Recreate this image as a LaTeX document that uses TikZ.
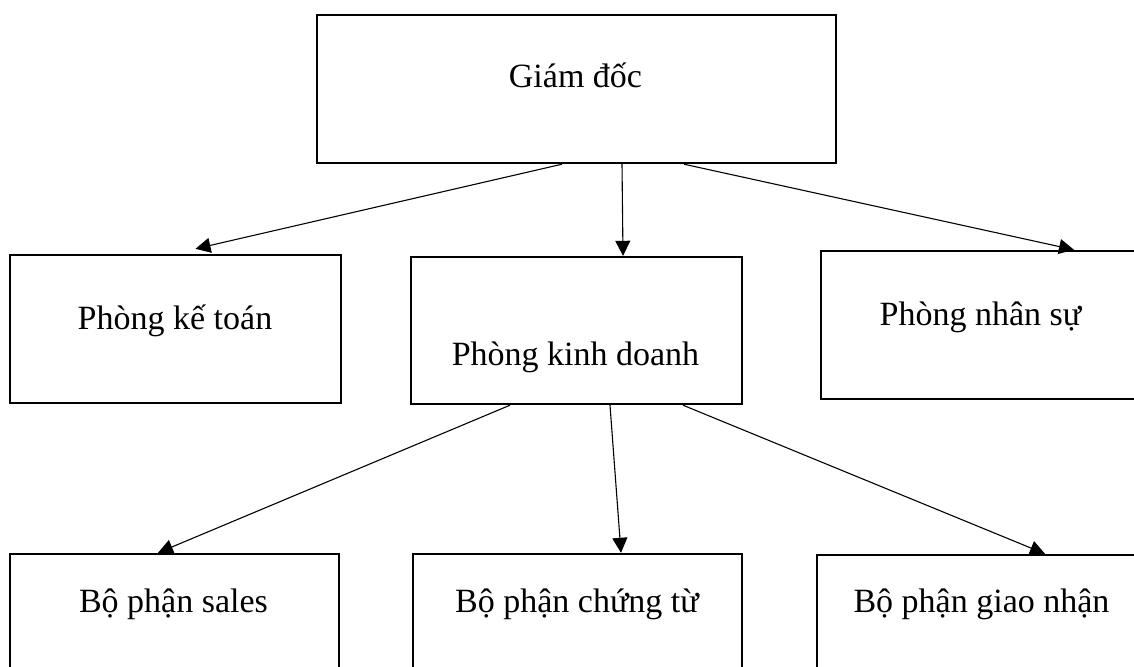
\documentclass[tikz,border=0pt]{standalone}
\usepackage{fontspec}
\setmainfont{Liberation Serif}
\usetikzlibrary{arrows.meta}
\begin{document}
\begin{tikzpicture}[x=1pt,y=-1pt,
  box/.style={draw=black, line width=2.4pt, rectangle, inner sep=0pt},
  lbl/.style={anchor=base, inner sep=0pt, font=\fontsize{34}{40}\selectfont},
  conn/.style={draw=black, line width=1.1pt, -{Triangle[length=15pt,width=15pt]}}]
\clip (0,0) rectangle (1134,666);
\fill[white] (0,0) rectangle (1134,666);
% boxes
\node[box, minimum width=519pt, minimum height=148pt] (gd) at (576.5,89) {};
\node[box, minimum width=331pt, minimum height=148pt] (kt) at (175.5,329) {};
\node[box, minimum width=331pt, minimum height=147pt] (kd) at (576.5,330.5) {};
\node[box, minimum width=330pt, minimum height=148pt] (ns) at (986,325) {};
\node[box, minimum width=329pt, minimum height=148pt] (sa) at (174.5,628) {};
\node[box, minimum width=329pt, minimum height=148pt] (ct) at (577.5,628) {};
\node[box, minimum width=329pt, minimum height=148pt] (gn) at (981.5,629) {};
% labels
\node[lbl] (gdt) at (575.5,88) {Giám đốc};
\node[lbl] (ktt) at (175,329) {Phòng kế toán};
\node[lbl] (kdt) at (575.5,365) {Phòng kinh doanh};
\node[lbl] (nst) at (980.5,325) {Phòng nhân sự};
\node[lbl] (sat) at (173.5,612) {Bộ phận sales};
\node[lbl] (ctt) at (577,612) {Bộ phận chứng từ};
\node[lbl] (gnt) at (981.5,612) {Bộ phận giao nhận};
% connectors
\draw[conn] ([xshift=-14.5pt]gd.south) -- ([xshift=20pt,yshift=5pt]kt.north);
\draw[conn] ([xshift=45.5pt]gd.south) -- ([xshift=46.5pt]kd.north);
\draw[conn] ([xshift=107.5pt]gd.south) -- ([xshift=88pt]ns.north);
\draw[conn] ([xshift=-66.5pt]kd.south) -- ([xshift=-16.5pt]sa.north);
\draw[conn] ([xshift=33.5pt]kd.south) -- ([xshift=43.5pt]ct.north);
\draw[conn] ([xshift=106.5pt]kd.south) -- ([xshift=63.5pt]gn.north);
\end{tikzpicture}
\end{document}
